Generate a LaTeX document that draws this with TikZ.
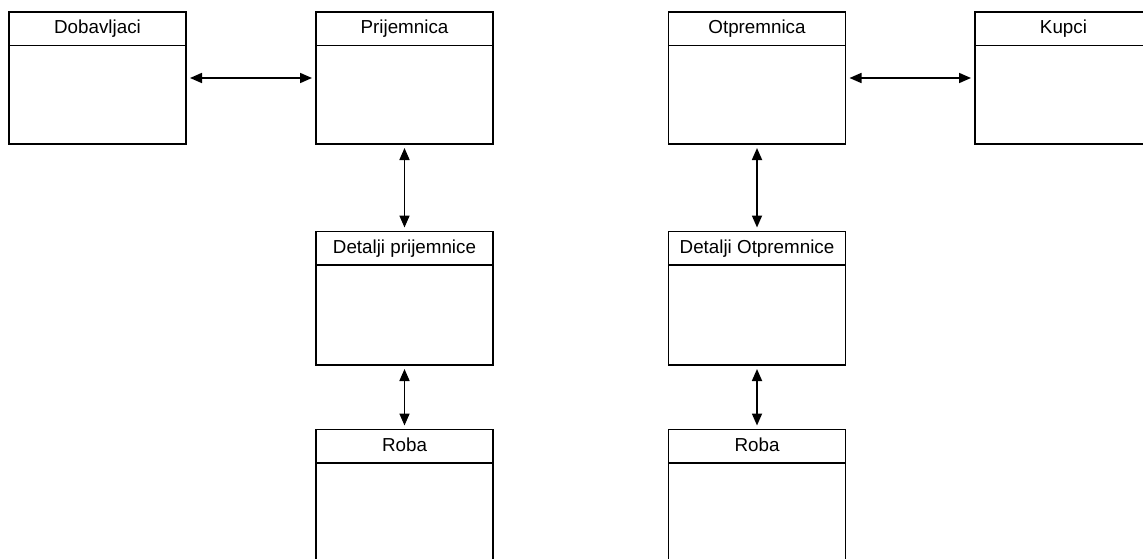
\documentclass[tikz,border=0pt]{standalone}
\usepackage{fontspec}
\setmainfont{Liberation Sans}
\usetikzlibrary{arrows.meta}

\tikzset{
  ebox/.style={draw, line width=1.7pt, minimum width=177pt, inner sep=0pt, outer sep=0pt},
  ehead/.style={draw, line width=1.7pt, minimum width=177pt, minimum height=33.5pt,
    inner sep=0pt, outer sep=0pt, anchor=north, text height=13.5pt, text depth=4pt,
    font=\fontsize{18.8}{22}\selectfont},
  link/.style={line width=1.7pt,
    {Triangle[length=12pt,width=10pt]}-{Triangle[length=12pt,width=10pt]},
    shorten <=4pt, shorten >=4pt}
}

% entity box: name, centre x, top y, height, title
\newcommand{\entitybox}[5]{%
  \node[ebox, minimum height=#4pt, anchor=north] (#1) at (#2,#3) {};
  \node[ehead] (#1-title) at (#1.north) {#5};
}

\begin{document}
\begin{tikzpicture}[x=1pt, y=-1pt]
  \useasboundingbox (0,0) rectangle (1143,559);
  \clip (0,0) rectangle (1143,559);

  % top row
  \entitybox{dob}{97.5}{12}{132}{Dobavljaci}
  \entitybox{prij}{404.5}{12}{132}{Prijemnica}
  \entitybox{otp}{757}{12}{132}{Otpremnica}
  \entitybox{kup}{1063.5}{12}{132}{Kupci}

  % detail tables
  \entitybox{detp}{404.5}{231.5}{133.5}{Detalji prijemnice}
  \entitybox{deto}{757}{231.5}{133.5}{Detalji Otpremnice}

  % goods tables (run past the lower edge)
  \entitybox{robap}{404.5}{429.5}{150}{Roba}
  \entitybox{robao}{757}{429.5}{150}{Roba}

  % relations
  \draw[link] (dob) -- (prij);
  \draw[link] (otp) -- (kup);
  \draw[link] (prij) -- (detp);
  \draw[link] (detp) -- (robap);
  \draw[link] (otp) -- (deto);
  \draw[link] (deto) -- (robao);
\end{tikzpicture}
\end{document}
